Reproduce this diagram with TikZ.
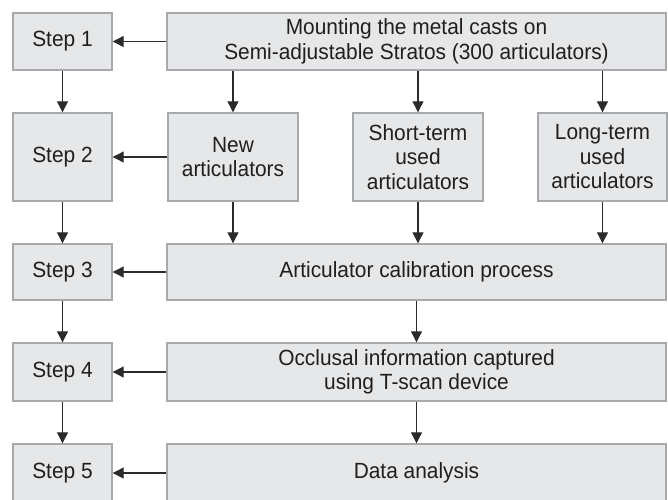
\documentclass[tikz,border=0pt]{standalone}
\usepackage{fontspec}
\setmainfont{Liberation Sans}[FakeStretch=0.95]
\usetikzlibrary{arrows.meta}
\definecolor{boxfill}{HTML}{E6E7E8}
\definecolor{boxline}{HTML}{A7A9AC}
\definecolor{arrcol}{HTML}{2B2B2B}
\tikzset{
  box/.style={draw=boxline, fill=boxfill, line width=1.4pt, rectangle, align=center,
    inner sep=0pt, font=\fontsize{22}{24.5}\selectfont, text=black!88},
  arr/.style={draw=arrcol, line width=1.1pt, -{Triangle[length=11pt,width=11pt]}}
}
\begin{document}
\begin{tikzpicture}[x=1pt,y=-1pt]
\useasboundingbox (0,0) rectangle (668,499);
\begin{scope}
\clip (0,0) rectangle (668,499);
% step column
\node[box, minimum width=99pt, minimum height=57pt] (s1) at (62.5,41.5) {Step 1};
\node[box, minimum width=99pt, minimum height=88pt] (s2) at (62.5,157) {Step 2};
\node[box, minimum width=99pt, minimum height=56pt] (s3) at (62.5,272) {Step 3};
\node[box, minimum width=99pt, minimum height=58pt] (s4) at (62.5,372) {Step 4};
\node[box, minimum width=99pt, minimum height=58pt] (s5) at (62.5,473) {Step 5};
% right column
\node[box, minimum width=499pt, minimum height=57pt] (mount) at (416.5,41.5) {Mounting the metal casts on\\Semi-adjustable Stratos (300 articulators)};
\node[box, minimum width=130pt, minimum height=88pt] (new) at (233,157) {New\\articulators};
\node[box, minimum width=130pt, minimum height=88pt] (short) at (418,157) {Short-term\\used\\articulators};
\node[box, minimum width=129pt, minimum height=88pt] (long) at (602.5,157) {Long-term\\used\\articulators};
\node[box, minimum width=499pt, minimum height=56pt] (calib) at (416.5,272) {Articulator calibration process};
\node[box, minimum width=499pt, minimum height=58pt] (occl) at (416.5,372) {Occlusal information captured\\using T-scan device};
\node[box, minimum width=499pt, minimum height=58pt] (data) at (416.5,473) {Data analysis};
\end{scope}
% step arrows
\draw[arr] (s1.south) -- (s2.north);
\draw[arr] (s2.south) -- (s3.north);
\draw[arr] (s3.south) -- (s4.north);
\draw[arr] (s4.south) -- (s5.north);
% horizontal arrows
\draw[arr] (mount.west) -- (s1.east);
\draw[arr] (new.west) -- (s2.east);
\draw[arr] (calib.west) -- (s3.east);
\draw[arr] (occl.west) -- (s4.east);
\draw[arr] (data.west) -- (s5.east);
% right column arrows
\draw[arr] (new.north |- mount.south) -- (new.north);
\draw[arr] (short.north |- mount.south) -- (short.north);
\draw[arr] (long.north |- mount.south) -- (long.north);
\draw[arr] (new.south) -- (new.south |- calib.north);
\draw[arr] (short.south) -- (short.south |- calib.north);
\draw[arr] (long.south) -- (long.south |- calib.north);
\draw[arr] (calib.south) -- (occl.north);
\draw[arr] (occl.south) -- (data.north);
\end{tikzpicture}
\end{document}
